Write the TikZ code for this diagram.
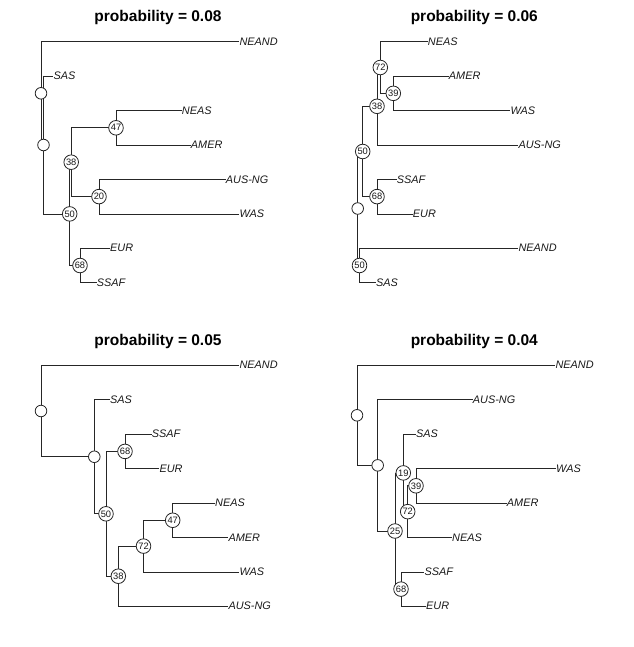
\documentclass[tikz,border=0pt]{standalone}
\usepackage{fontspec}
\setmainfont{Liberation Sans}
\begin{document}
\begin{tikzpicture}[x=1pt,y=-1pt,
  edge/.style={line width=0.75pt, draw=black!85},
  leaf/.style={anchor=west, inner sep=0pt, font=\fontsize{10.9}{12}\selectfont\itshape, text height=0.72em, text depth=0pt, text=black!90},
  numc/.style={circle, draw=black!85, line width=0.8pt, fill=white, minimum size=14.6pt, inner sep=0pt, font=\fontsize{9.3}{10}\selectfont, text=black!90},
  emptyc/.style={circle, draw=black!85, line width=0.8pt, fill=white, minimum size=11.6pt, inner sep=0pt},
  ttl/.style={font=\fontsize{15.5}{18}\selectfont\bfseries, anchor=base, inner sep=0pt}]
\useasboundingbox (0,0) rectangle (633,647);
% ---------------- panel 1 ----------------
\node[ttl] (t1) at (158,21.5) {probability = 0.08};
\coordinate (aE1) at (41,93.3);
\coordinate (aE2) at (43.5,145);
\coordinate (a50) at (69.7,213.9);
\coordinate (a38) at (71.2,162.2);
\coordinate (a47) at (116,127.8);
\coordinate (a20) at (99,196.6);
\coordinate (a68) at (80,265.5);
\node[leaf] (aNEAND) at (239.3,41.7) {NEAND};
\node[leaf] (aSAS) at (53.3,76.1) {SAS};
\node[leaf] (aNEAS) at (181.7,110.6) {NEAS};
\node[leaf] (aAMER) at (190.7,145) {AMER};
\node[leaf] (aAUS) at (225.7,179.4) {AUS-NG};
\node[leaf] (aWAS) at (239.3,213.9) {WAS};
\node[leaf] (aEUR) at (110,248.3) {EUR};
\node[leaf] (aSSAF) at (96.7,282.7) {SSAF};
\draw[edge] (aE1) |- (aNEAND.west);
\draw[edge] (aE1) |- (aE2);
\draw[edge] (aE2) |- (aSAS.west);
\draw[edge] (aE2) |- (a50);
\draw[edge] (a50) |- (a38);
\draw[edge] (a50) |- (a68);
\draw[edge] (a38) |- (a47);
\draw[edge] (a38) |- (a20);
\draw[edge] (a47) |- (aNEAS.west);
\draw[edge] (a47) |- (aAMER.west);
\draw[edge] (a20) |- (aAUS.west);
\draw[edge] (a20) |- (aWAS.west);
\draw[edge] (a68) |- (aEUR.west);
\draw[edge] (a68) |- (aSSAF.west);
\node[emptyc] (caE1) at (aE1) {};
\node[emptyc] (caE2) at (aE2) {};
\node[numc] (ca50) at (a50) {50};
\node[numc] (ca38) at (a38) {38};
\node[numc] (ca47) at (a47) {47};
\node[numc] (ca20) at (a20) {20};
\node[numc] (ca68) at (a68) {68};
% ---------------- panel 2 ----------------
\node[ttl] (t2) at (474.3,21.5) {probability = 0.06};
\coordinate (bE1) at (357.7,208.5);
\coordinate (b50a) at (362.7,151.5);
\coordinate (b50b) at (359.5,265.5);
\coordinate (b38) at (377,106.3);
\coordinate (b72) at (380.3,67.5);
\coordinate (b39) at (393.3,93.35);
\coordinate (b68) at (377,196.6);
\node[leaf] (bNEAS) at (427.7,41.7) {NEAS};
\node[leaf] (bAMER) at (448.7,76.1) {AMER};
\node[leaf] (bWAS) at (510.3,110.6) {WAS};
\node[leaf] (bAUS) at (518.3,145) {AUS-NG};
\node[leaf] (bSSAF) at (396.7,179.4) {SSAF};
\node[leaf] (bEUR) at (412.7,213.9) {EUR};
\node[leaf] (bNEAND) at (518.3,248.3) {NEAND};
\node[leaf] (bSAS) at (376,282.7) {SAS};
\draw[edge] (bE1) |- (b50a);
\draw[edge] (bE1) |- (b50b);
\draw[edge] (b50a) |- (b38);
\draw[edge] (b50a) |- (b68);
\draw[edge] (b38) |- (b72);
\draw[edge] (b38) |- (bAUS.west);
\draw[edge] (b72) |- (bNEAS.west);
\draw[edge] (b72) |- (b39);
\draw[edge] (b39) |- (bAMER.west);
\draw[edge] (b39) |- (bWAS.west);
\draw[edge] (b68) |- (bSSAF.west);
\draw[edge] (b68) |- (bEUR.west);
\draw[edge] (b50b) |- (bNEAND.west);
\draw[edge] (b50b) |- (bSAS.west);
\node[emptyc] (cbE1) at (bE1) {};
\node[numc] (cb50a) at (b50a) {50};
\node[numc] (cb50b) at (b50b) {50};
\node[numc] (cb38) at (b38) {38};
\node[numc] (cb72) at (b72) {72};
\node[numc] (cb39) at (b39) {39};
\node[numc] (cb68) at (b68) {68};
% ---------------- panel 3 ----------------
\node[ttl] (t3) at (158,345.5) {probability = 0.05};
\coordinate (cE1) at (41,411);
\coordinate (cE2) at (94.3,456.75);
\coordinate (c50) at (106,513.8);
\coordinate (c68) at (125,451.4);
\coordinate (c38) at (118.3,576.2);
\coordinate (c72) at (143.5,546.1);
\coordinate (c47) at (172.7,520.25);
\node[leaf] (cNEAND) at (239.3,365.3) {NEAND};
\node[leaf] (cSAS) at (110,399.7) {SAS};
\node[leaf] (cSSAF) at (151.7,434.2) {SSAF};
\node[leaf] (cEUR) at (159.3,468.6) {EUR};
\node[leaf] (cNEAS) at (215,503) {NEAS};
\node[leaf] (cAMER) at (228.3,537.5) {AMER};
\node[leaf] (cWAS) at (239.3,571.9) {WAS};
\node[leaf] (cAUS) at (228.3,606.3) {AUS-NG};
\draw[edge] (cE1) |- (cNEAND.west);
\draw[edge] (cE1) |- (cE2);
\draw[edge] (cE2) |- (cSAS.west);
\draw[edge] (cE2) |- (c50);
\draw[edge] (c50) |- (c68);
\draw[edge] (c50) |- (c38);
\draw[edge] (c68) |- (cSSAF.west);
\draw[edge] (c68) |- (cEUR.west);
\draw[edge] (c38) |- (c72);
\draw[edge] (c38) |- (cAUS.west);
\draw[edge] (c72) |- (c47);
\draw[edge] (c72) |- (cWAS.west);
\draw[edge] (c47) |- (cNEAS.west);
\draw[edge] (c47) |- (cAMER.west);
\node[emptyc] (ccE1) at (cE1) {};
\node[emptyc] (ccE2) at (cE2) {};
\node[numc] (cc50) at (c50) {50};
\node[numc] (cc68) at (c68) {68};
\node[numc] (cc38) at (c38) {38};
\node[numc] (cc72) at (c72) {72};
\node[numc] (cc47) at (c47) {47};
% ---------------- panel 4 ----------------
\node[ttl] (t4) at (474.3,345.5) {probability = 0.04};
\coordinate (dE1) at (357,415.3);
\coordinate (dE2) at (377.7,465.35);
\coordinate (d25) at (395,531);
\coordinate (d19) at (403.3,472.9);
\coordinate (d72) at (407.7,511.65);
\coordinate (d39) at (416,485.8);
\coordinate (d68) at (401,589.1);
\node[leaf] (dNEAND) at (555.3,365.3) {NEAND};
\node[leaf] (dAUS) at (472.7,399.7) {AUS-NG};
\node[leaf] (dSAS) at (416,434.2) {SAS};
\node[leaf] (dWAS) at (556,468.6) {WAS};
\node[leaf] (dAMER) at (506.7,503) {AMER};
\node[leaf] (dNEAS) at (452,537.5) {NEAS};
\node[leaf] (dSSAF) at (424.3,571.9) {SSAF};
\node[leaf] (dEUR) at (426,606.3) {EUR};
\draw[edge] (dE1) |- (dNEAND.west);
\draw[edge] (dE1) |- (dE2);
\draw[edge] (dE2) |- (dAUS.west);
\draw[edge] (dE2) |- (d25);
\draw[edge] (d25) |- (d19);
\draw[edge] (d25) |- (d68);
\draw[edge] (d19) |- (dSAS.west);
\draw[edge] (d19) |- (d72);
\draw[edge] (d72) |- (d39);
\draw[edge] (d72) |- (dNEAS.west);
\draw[edge] (d39) |- (dWAS.west);
\draw[edge] (d39) |- (dAMER.west);
\draw[edge] (d68) |- (dSSAF.west);
\draw[edge] (d68) |- (dEUR.west);
\node[emptyc] (cdE1) at (dE1) {};
\node[emptyc] (cdE2) at (dE2) {};
\node[numc] (cd25) at (d25) {25};
\node[numc] (cd19) at (d19) {19};
\node[numc] (cd72) at (d72) {72};
\node[numc] (cd39) at (d39) {39};
\node[numc] (cd68) at (d68) {68};
\end{tikzpicture}
\end{document}
